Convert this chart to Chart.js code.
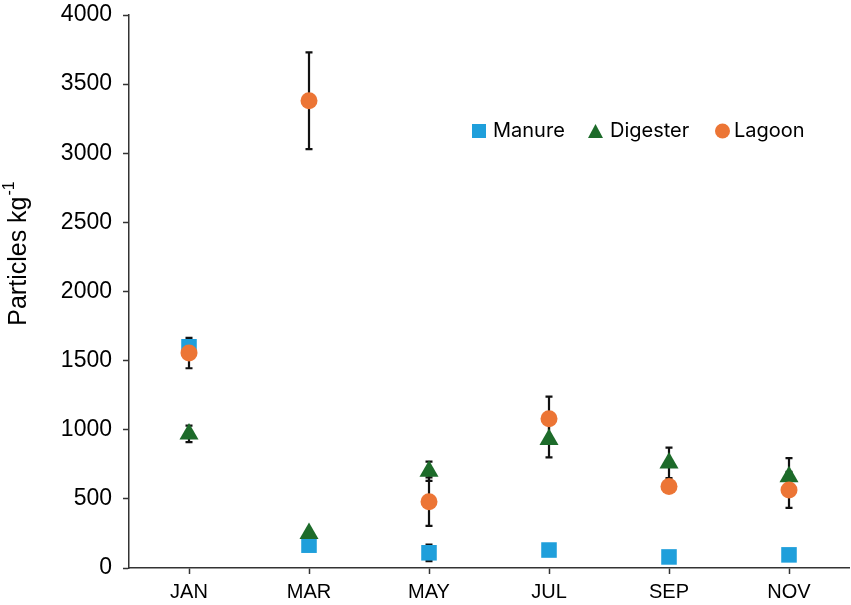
<!DOCTYPE html>
<html>
<head>
<meta charset="utf-8">
<script src="https://cdn.jsdelivr.net/npm/chart.js@4/dist/chart.umd.min.js"></script>
<style>
  body { margin: 0; background: #fff; }
  #wrap { width: 851px; height: 605px; }
</style>
</head>
<body>
<div id="wrap"><canvas id="chart" width="851" height="605"></canvas></div>
<script>
const months = ["JAN", "MAR", "MAY", "JUL", "SEP", "NOV"];

const manure = [1600, 165, 110, 130, 80, 95];
const manure_err = [null, null, 60, null, null, null];

const digester = [970, 250, 700, 930, 760, 660];
const digester_err = [60, null, 70, 130, 110, 135];

const lagoon = [1555, 3380, 480, 1080, 590, 565];
const lagoon_err = [110, 350, 175, 160, null, 130];

const y_ticks = [0, 500, 1000, 1500, 2000, 2500, 3000, 3500, 4000];

const col_manure = "#1f9fdb";
const col_digester = "#1d6b2a";
const col_lagoon = "#ec7535";

const errors = [manure_err, digester_err, lagoon_err];

// error bars go under the markers
const errorBars = {
  id: "errorBars",
  beforeDatasetsDraw(chart) {
    const ctx = chart.ctx;
    const y = chart.scales.y;
    ctx.save();
    ctx.strokeStyle = "#111";
    ctx.lineWidth = 2.2;
    chart.data.datasets.forEach((ds, di) => {
      const meta = chart.getDatasetMeta(di);
      const errs = errors[di];
      ds.data.forEach((v, i) => {
        const e = errs[i];
        if (e == null) return;
        const px = meta.data[i].x;
        const top = y.getPixelForValue(v + e);
        const bot = y.getPixelForValue(v - e);
        ctx.beginPath();
        ctx.moveTo(px, top); ctx.lineTo(px, bot);
        ctx.moveTo(px - 3.5, top); ctx.lineTo(px + 3.5, top);
        ctx.moveTo(px - 3.5, bot); ctx.lineTo(px + 3.5, bot);
        ctx.stroke();
      });
    });
    ctx.restore();
  }
};

// y title with superscript, and the legend inside the plot
const extras = {
  id: "extras",
  afterDraw(chart) {
    const ctx = chart.ctx;
    ctx.save();
    ctx.fillStyle = "#000";
    ctx.translate(17, 254);
    ctx.rotate(-Math.PI / 2);
    ctx.font = "25px 'Liberation Sans', Arial, sans-serif";
    const main = "Particles kg";
    const w1 = ctx.measureText(main).width;
    ctx.font = "16px 'Liberation Sans', Arial, sans-serif";
    const w2 = ctx.measureText("-1").width;
    const x0 = -(w1 + w2) / 2;
    ctx.textBaseline = "alphabetic";
    ctx.font = "25px 'Liberation Sans', Arial, sans-serif";
    ctx.fillText(main, x0, 9);
    ctx.font = "16px 'Liberation Sans', Arial, sans-serif";
    ctx.fillText("-1", x0 + w1 + 1, -3);
    ctx.restore();

    ctx.save();
    const ly = 131;
    ctx.font = "20px Inter, 'Open Sans', sans-serif";
    ctx.textBaseline = "middle";
    ctx.fillStyle = "#000";
    // Manure
    ctx.fillStyle = col_manure;
    ctx.fillRect(472, ly - 7, 14, 14);
    ctx.fillStyle = "#000";
    ctx.fillText("Manure", 493, ly);
    // Digester
    ctx.fillStyle = col_digester;
    ctx.beginPath();
    ctx.moveTo(595.5, ly - 7); ctx.lineTo(603, ly + 7); ctx.lineTo(588, ly + 7);
    ctx.closePath(); ctx.fill();
    ctx.fillStyle = "#000";
    ctx.fillText("Digester", 610, ly);
    // Lagoon
    ctx.fillStyle = col_lagoon;
    ctx.beginPath();
    ctx.arc(722.5, ly, 7.5, 0, Math.PI * 2);
    ctx.fill();
    ctx.fillStyle = "#000";
    ctx.fillText("Lagoon", 734, ly);
    ctx.restore();
  }
};

function series(label, data, style, color, order, r) {
  return {
    label: label,
    data: data,
    showLine: false,
    pointStyle: style,
    pointRadius: r,
    pointHoverRadius: r,
    pointBackgroundColor: color,
    pointBorderColor: color,
    pointBorderWidth: 0,
    borderColor: color,
    backgroundColor: color,
    order: order
  };
}

new Chart(document.getElementById("chart"), {
  type: "line",
  data: {
    labels: months,
    datasets: [
      series("Manure", manure, "rect", col_manure, 3, 11),
      series("Digester", digester, "triangle", col_digester, 2, 11),
      series("Lagoon", lagoon, "circle", col_lagoon, 1, 8.5)
    ]
  },
  options: {
    responsive: false,
    animation: false,
    layout: { autoPadding: false, padding: { left: 0, top: 15, right: 2, bottom: 0 } },
    plugins: {
      legend: { display: false },
      tooltip: { enabled: false }
    },
    scales: {
      x: {
        offset: true,
        grid: { drawOnChartArea: false, tickLength: 6, color: "#333", tickWidth: 1.5 },
        border: { color: "#333", width: 1.5 },
        ticks: { color: "#000", font: { family: "'Liberation Sans', Arial", size: 20 }, padding: 6 },
        afterFit(s) { s.height = 37; s.paddingLeft = 0; s.paddingRight = 0; }
      },
      y: {
        min: 0,
        max: 4000,
        afterBuildTicks(s) { s.ticks = y_ticks.map(v => ({ value: v })); },
        grid: { drawOnChartArea: false, tickLength: 6, color: "#333", tickWidth: 1.5 },
        border: { color: "#333", width: 1.5 },
        ticks: {
          color: "#000",
          font: { family: "'Liberation Sans', Arial", size: 23 },
          padding: 11,
          callback: v => String(v)
        },
        afterFit(s) { s.width = 129; s.paddingTop = 0; s.paddingBottom = 0; }
      }
    }
  },
  plugins: [errorBars, extras]
});
</script>
</body>
</html>
